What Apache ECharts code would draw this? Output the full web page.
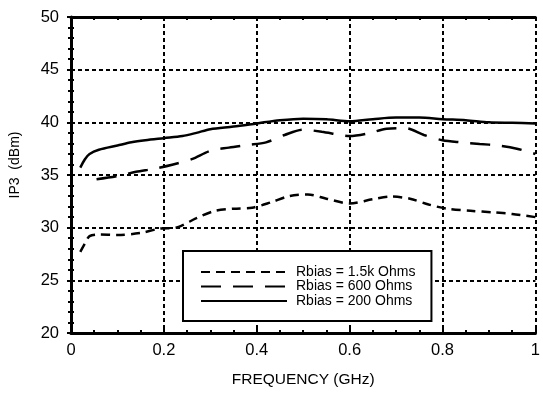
<!DOCTYPE html>
<html>
<head>
<meta charset="utf-8">
<script src="https://cdn.jsdelivr.net/npm/echarts@6/dist/echarts.min.js"></script>
<style>
  html, body { margin: 0; padding: 0; background: #fff; }
  #chart { width: 543px; height: 393px; }
</style>
</head>
<body>
<div id="chart"></div>
<script>
// IP3 vs frequency, three bias resistor values
const seriesNames = ['Rbias = 1.5k Ohms', 'Rbias = 600 Ohms', 'Rbias = 200 Ohms'];

const freq1k5 = [0.02, 0.03, 0.04, 0.06, 0.1, 0.15, 0.19, 0.23, 0.27, 0.31, 0.35, 0.39, 0.43, 0.47, 0.51, 0.55, 0.6, 0.65, 0.69, 0.73, 0.77, 0.81, 0.86, 0.91, 0.95, 1.0];
const ip3_1k5 = [27.7, 28.5, 29.2, 29.35, 29.3, 29.5, 29.9, 30.05, 30.9, 31.6, 31.8, 31.9, 32.4, 33.0, 33.15, 32.75, 32.3, 32.7, 32.95, 32.75, 32.2, 31.8, 31.6, 31.45, 31.3, 31.0];

const freq600 = [0.055, 0.1, 0.14, 0.18, 0.22, 0.26, 0.3, 0.34, 0.38, 0.42, 0.46, 0.5, 0.54, 0.58, 0.6, 0.64, 0.68, 0.72, 0.76, 0.8, 0.84, 0.88, 0.92, 0.96, 1.0];
const ip3_600 = [34.6, 34.9, 35.3, 35.6, 36.0, 36.5, 37.3, 37.6, 37.85, 38.1, 38.8, 39.3, 39.1, 38.8, 38.7, 38.95, 39.4, 39.45, 38.8, 38.3, 38.1, 37.95, 37.8, 37.5, 37.0];

const freq200 = [0.02, 0.03, 0.04, 0.06, 0.1, 0.13, 0.16, 0.2, 0.24, 0.27, 0.3, 0.35, 0.4, 0.45, 0.5, 0.55, 0.6, 0.65, 0.7, 0.75, 0.8, 0.85, 0.9, 0.95, 1.0];
const ip3_200 = [35.7, 36.5, 37.0, 37.4, 37.8, 38.1, 38.3, 38.5, 38.7, 39.0, 39.35, 39.6, 39.9, 40.2, 40.35, 40.3, 40.1, 40.3, 40.45, 40.45, 40.3, 40.2, 40.0, 39.95, 39.9];

const font = 'Liberation Sans, Arial, Helvetica, sans-serif';
const pair = (xs, ys) => xs.map((x, i) => [x, ys[i]]);

const myChart = echarts.init(document.getElementById('chart'));

const tickStyle = { color: '#000', width: 2 };
const gridLine = { show: true, lineStyle: { color: '#000', width: 2, type: [4, 3] } };

const option = {
  animation: false,
  backgroundColor: '#fff',
  textStyle: { fontFamily: font },
  grid: { left: 71, right: 1, top: 17, bottom: 53 },
  legend: {
    orient: 'vertical',
    left: 183,
    top: 251,
    data: seriesNames,
    itemWidth: 86,
    itemHeight: 12,
    itemGap: 0.5,
    padding: [14, 16, 13, 17],
    backgroundColor: '#fff',
    borderColor: '#000',
    borderWidth: 2,
    borderRadius: 0,
    itemStyle: { opacity: 0, color: 'rgba(0,0,0,0)', borderWidth: 0 },
    textStyle: { fontSize: 14, color: '#000', fontFamily: font, lineHeight: 14, padding: [0, 0, 0, 4] },
    z: 10
  },
  xAxis: [
    {
      type: 'value',
      min: 0,
      max: 1,
      interval: 0.2,
      name: 'FREQUENCY (GHz)',
      nameLocation: 'middle',
      nameGap: 39,
      nameTextStyle: { fontSize: 15.5, color: '#000', fontFamily: font },
      axisLine: { lineStyle: { color: '#000', width: 3 } },
      axisTick: { inside: true, length: 4, lineStyle: tickStyle },
      minorTick: { show: true, splitNumber: 4, length: 3, lineStyle: tickStyle },
      axisLabel: { fontSize: 16.5, color: '#000', margin: 9, fontFamily: font },
      splitLine: gridLine
    },
    {
      type: 'value',
      position: 'top',
      min: 0,
      max: 1,
      interval: 0.2,
      axisLine: { show: true, lineStyle: { color: '#000', width: 3 } },
      axisTick: { show: true, inside: true, length: 4, lineStyle: tickStyle },
      minorTick: { show: true, splitNumber: 4, length: 3, lineStyle: tickStyle },
      axisLabel: { show: false },
      splitLine: { show: false }
    }
  ],
  yAxis: [
    {
      type: 'value',
      min: 20,
      max: 50,
      interval: 5,
      name: 'IP3  (dBm)',
      nameLocation: 'middle',
      nameGap: 49,
      nameRotate: 90,
      nameTextStyle: { fontSize: 14, color: '#000', fontFamily: font, padding: [0, 0, 0, 20] },
      axisLine: { show: true, lineStyle: { color: '#000', width: 3 } },
      axisTick: { show: true, inside: true, length: 4, lineStyle: tickStyle },
      minorTick: { show: true, splitNumber: 5, length: 3, lineStyle: tickStyle },
      axisLabel: { fontSize: 16.5, color: '#000', margin: 12, fontFamily: font },
      splitLine: gridLine
    },
    {
      type: 'value',
      position: 'right',
      min: 20,
      max: 50,
      interval: 5,
      axisLine: { show: true, lineStyle: { color: '#000', width: 2 } },
      axisTick: { show: true, inside: true, length: 4, lineStyle: tickStyle },
      minorTick: { show: true, splitNumber: 5, length: 3, lineStyle: tickStyle },
      axisLabel: { show: false },
      splitLine: { show: false }
    }
  ],
  series: [
    {
      name: seriesNames[0],
      type: 'line',
      data: pair(freq1k5, ip3_1k5),
      smooth: 0.3,
      showSymbol: false,
      symbol: 'none',
      lineStyle: { color: '#000', width: 2.5, type: [9, 6] },
      itemStyle: { color: '#000' }
    },
    {
      name: seriesNames[1],
      type: 'line',
      data: pair(freq600, ip3_600),
      smooth: 0.3,
      showSymbol: false,
      symbol: 'none',
      lineStyle: { color: '#000', width: 2.5, type: [20, 12] },
      itemStyle: { color: '#000' }
    },
    {
      name: seriesNames[2],
      type: 'line',
      data: pair(freq200, ip3_200),
      smooth: 0.3,
      showSymbol: false,
      symbol: 'none',
      lineStyle: { color: '#000', width: 2.5 },
      itemStyle: { color: '#000' }
    }
  ]
};

myChart.setOption(option);
</script>
</body>
</html>
